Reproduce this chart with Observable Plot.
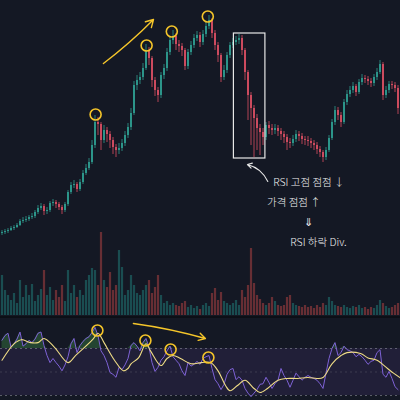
<!DOCTYPE html>
<html><head><meta charset="utf-8">
<script src="https://cdn.jsdelivr.net/npm/d3@7"></script>
<script src="https://cdn.jsdelivr.net/npm/@observablehq/plot@0.6"></script>
<style>
html,body{margin:0;padding:0;background:#141824;}
#wrap{position:relative;width:400px;height:400px;overflow:hidden;background:#141824;}
#wrap > div, #wrap > svg{position:absolute;left:0;}
#sep{position:absolute;left:0;top:316px;width:400px;height:2px;background:#0c0f16;}
</style></head>
<body><div id="wrap"><div id="vol" style="top:228px"></div><div id="price" style="top:0px"></div><div id="sep"></div><div id="rsi" style="top:318px"></div></div>
<script>
// ---- data ----
const opens = [
 87,88,89,90,92,93,95,99,100,101,
 103,104,108,112,114,109,110,117,118,116,
 113,110,116,128,135,136,131,138,147,152,
 158,175,198,196,180,190,186,180,173,170,
 172,177,185,193,207,235,240,243,252,270,
 262,240,230,225,245,252,268,280,284,276,
 274,270,254,268,275,282,285,278,286,294,
 300,287,275,265,243,250,265,275,278,280,
 282,270,248,225,212,202,192,188,183,195,
 192,190,192,189,186,183,178,177,181,186,
 184,181,180,179,177,175,171,168,163,170,
 182,198,210,205,198,218,226,230,234,228,
 238,242,241,239,237,243,248,256,225,230,
 236,235,232];
const closes = [
 88,89,90,92,93,95,99,100,101,103,
 104,108,112,114,109,110,117,118,116,113,
 110,116,128,135,136,131,138,147,152,158,
 175,198,196,180,190,186,180,173,170,172,
 177,185,193,207,235,240,243,252,270,262,
 240,230,225,245,252,268,280,284,276,274,
 270,254,268,275,282,285,278,286,294,300,
 287,275,265,243,250,265,275,278,280,282,
 270,248,225,212,202,192,188,183,195,192,
 190,192,189,186,183,178,177,181,186,184,
 181,180,179,177,175,171,168,163,170,182,
 198,210,205,198,218,226,230,234,228,238,
 242,241,239,237,243,248,256,225,230,236,
 235,232,212];
const highs = [
 90,91,92,94,95,97,101,103,104,105,
 107,110,115,117,116,113,119,121,120,118,
 115,118,130,138,140,138,141,150,156,162,
 180,205,203,198,195,193,189,183,176,177,
 181,189,197,212,239,245,248,257,276,273,
 264,243,233,248,256,272,284,290,287,280,
 277,272,271,279,286,289,288,290,298,305,
 302,290,278,267,255,268,278,282,284,286,
 285,272,250,228,215,206,196,192,198,199,
 196,196,195,192,189,186,182,185,190,189,
 187,184,184,182,180,178,174,170,173,185,
 201,214,213,208,221,230,234,238,236,241,
 246,245,244,242,246,252,260,258,234,239,
 239,238,235];
const lows = [
 85,86,87,89,90,92,94,97,98,99,
 101,102,106,110,105,106,108,114,112,110,
 106,108,114,126,132,128,129,136,145,150,
 156,172,185,170,177,178,172,166,163,166,
 169,174,182,190,205,230,236,240,250,255,
 233,224,218,222,241,249,265,276,270,268,
 264,250,251,265,272,279,273,275,283,291,
 282,270,258,238,240,247,262,272,275,276,
 265,240,200,175,163,170,165,175,180,186,
 185,186,184,180,177,170,172,174,178,179,
 176,175,174,172,170,166,163,158,160,168,
 180,195,200,193,196,215,223,227,224,226,
 235,237,235,233,234,240,246,220,222,227,
 231,228,206];
const volumes = [
 40,25,20,15,22,12,35,18,30,20,
 31,14,20,26,45,20,28,15,25,18,
 30,14,45,22,30,18,25,20,35,40,
 47,45,30,83,35,28,43,25,30,65,
 48,20,25,40,30,22,20,25,30,35,
 22,28,40,20,12,14,10,12,10,9,
 12,14,8,10,7,9,6,10,12,9,
 22,27,15,23,14,12,10,12,15,10,
 25,18,30,67,32,20,16,12,10,12,
 18,14,10,9,10,18,20,12,10,9,
 8,10,8,9,7,10,8,12,10,18,
 14,10,9,8,10,8,7,9,8,10,
 7,8,6,8,7,10,15,12,9,7,
 8,10,12];
const rsiValues = [
 77,81,83,71,74,78,84,72,74,77,
 75,78,83,84,72.5,64,58,61.5,58,55,
 51,56,63,74,78.5,66.5,72.5,76,78.5,80,
 83.5,88,81,68,64,58,49.5,48,45.5,54,
 52,56,61.5,72.5,75,72,68,75,78.5,71,
 58,50.5,54,60,63,68,72,63,60,57,
 51,47,58,55,56.5,59,56.5,61.5,63,64,
 53,43.5,40,35,39.5,48,52,53,43.5,46,
 43,36,32,29,32,35,39.5,40,45.5,41,
 36,40,43,53,47,43,37,43,49,46,
 43,45.5,47,45.5,44.5,43,40,36,49,61.5,
 70,75,64,66.5,72,69,68,66.5,63,65,
 63,60,56.5,59,60,66.5,69,48,45.5,50.5,
 44.5,37.5,35];
// RSI moving average, read at these bar positions
const maIndex = [0,4,6.5,9.5,12,14,17.5,22,24.5,27.5,30.5,32,34,37.5,40.5,42,43,45.5,48,49.5,53,55,57,59.5,63,66.5,69.5,72,74.5,76,78.5,81,84,86,88.5,92,95,98.5,102,105,107,110,113,115,119.5,122,125,128.5,130.5,132.8];
const maValues = [60,74,77.5,75,75,78.5,71,58,64,71,78.5,83,75,60,51,53,57,62,74,68,55.5,61.5,64,61.5,57,58,58,51,38.5,34,38.5,43,36,32.5,36,43,44.5,44.5,45.3,44.5,45.3,57,64,66.5,65.7,62,60,53,49,45];
const rsiLevels = [30, 50, 70];
const xDomain = [-0.5, 132.83];
const priceDomain = [4, 320];
const volDomain = [0, 87];
const rsiDomain = [25.74, 95.53];
// annotations
const priceCircleIdx = [31.2, 48.2, 56.6, 68.6];
const priceCirclePrice = [206, 275, 289, 304];
const priceArrow = {i1: 33.8, p1: 257, i2: 50.5, p2: 301};
const boxSpan = {i1: 77.3, i2: 87.8, p1: 162, p2: 287};
const noteArrow = {i1: 88.6, p1: 139, i2: 81.8, p2: 156};
const noteLines = ["RSI 고점 점점 ↓", "가격 점점 ↑", "⇓", "RSI 하락 Div."];
const noteIdx = [102.3, 97.3, 102.2, 105.5];
const notePrice = [138, 118, 98, 78];
const rsiCircleIdx = [31.8, 47.8, 56.2, 68.8];
const rsiCircleVal = [85.3, 76.8, 69.1, 62.3];
const rsiArrow = {i1: 43.8, v1: 91.3, i2: 67.8, v2: 78.5};

[opens, highs, lows, volumes, rsiValues].forEach((a, k) => { if (a.length !== closes.length) throw new Error("length mismatch " + k + ": " + a.length); });
if (maIndex.length !== maValues.length) throw new Error("ma mismatch");

const UP = "#2e9d91", DOWN = "#d94f63", YEL = "#f5c52a";
const candles = closes.map((c, i) => ({i, o: opens[i], c, h: highs[i], l: lows[i], v: volumes[i]}));
const isUp = d => d.c >= d.o;
const rsiData = rsiValues.map((v, i) => ({i, v}));
const maData = maValues.map((v, k) => ({i: maIndex[k], v}));
const circles = priceCircleIdx.map((i, k) => ({i, p: priceCirclePrice[k]}));
const notes = noteLines.map((t, k) => ({t, i: noteIdx[k], p: notePrice[k]}));
const rsiCircles = rsiCircleIdx.map((i, k) => ({i, v: rsiCircleVal[k]}));

const common = {width: 400, margin: 0, style: {background: "transparent", overflow: "visible"}};

// volume
const vol = Plot.plot({...common, height: 87,
  x: {domain: xDomain, axis: null}, y: {domain: volDomain, axis: null},
  marks: [
    Plot.ruleX(candles, {filter: isUp, x: "i", y1: 0, y2: "v", stroke: "#26a69a", strokeOpacity: 0.38, strokeWidth: 2.2}),
    Plot.ruleX(candles, {filter: d => !isUp(d), x: "i", y1: 0, y2: "v", stroke: "#ef5350", strokeOpacity: 0.38, strokeWidth: 2.2})
  ]});
document.getElementById("vol").appendChild(vol);

// price
const price = Plot.plot({...common, height: 316,
  x: {domain: xDomain, axis: null}, y: {domain: priceDomain, axis: null},
  marks: [
    Plot.ruleX(candles, {filter: isUp, x: "i", y1: "l", y2: "h", stroke: UP, strokeWidth: 0.8}),
    Plot.ruleX(candles, {filter: d => !isUp(d), x: "i", y1: "l", y2: "h", stroke: DOWN, strokeWidth: 0.8}),
    Plot.ruleX(candles, {filter: isUp, x: "i", y1: "o", y2: "c", stroke: UP, strokeWidth: 1.8}),
    Plot.ruleX(candles, {filter: d => !isUp(d), x: "i", y1: "o", y2: "c", stroke: DOWN, strokeWidth: 1.8}),
    Plot.dot(circles, {x: "i", y: "p", r: 5.5, stroke: YEL, strokeWidth: 1.6, fill: "none"}),
    Plot.arrow([priceArrow], {x1: "i1", y1: "p1", x2: "i2", y2: "p2", stroke: YEL, strokeWidth: 1.4, bend: -4, headLength: 9}),
    Plot.rect([boxSpan], {x1: "i1", x2: "i2", y1: "p1", y2: "p2", fill: "none", stroke: "#e8e8e8", strokeWidth: 1.2}),
    Plot.arrow([noteArrow], {x1: "i1", y1: "p1", x2: "i2", y2: "p2", stroke: "#e8e8e8", strokeWidth: 1.1, bend: -25, headLength: 7}),
    Plot.text(notes, {x: "i", y: "p", text: "t", fill: "#f0f0f0", fontSize: 10.5, fontFamily: "Noto Sans CJK KR, Noto Sans, sans-serif", fontWeight: 300})
  ]});
document.getElementById("price").appendChild(price);

// RSI
const rsi = Plot.plot({...common, height: 82,
  x: {domain: xDomain, axis: null}, y: {domain: rsiDomain, axis: null},
  marks: [
    Plot.rect([rsiLevels], {x1: () => xDomain[0], x2: () => xDomain[1], y1: d => d[0], y2: d => d[2], fill: "#7e57c2", fillOpacity: 0.13}),
    Plot.ruleY([rsiLevels[0], rsiLevels[2]], {stroke: "#8a8d99", strokeOpacity: 0.6, strokeDasharray: "2,3"}),
    Plot.ruleY([rsiLevels[1]], {stroke: "#8a8d99", strokeOpacity: 0.25, strokeDasharray: "2,3"}),
    Plot.areaY(rsiData, {x: "i", y1: 70, y2: d => Math.max(70, d.v), fill: "#4caf50", fillOpacity: 0.3}),
    Plot.line(rsiData, {x: "i", y: "v", stroke: "#7e62d6", strokeWidth: 1}),
    Plot.line(maData, {x: "i", y: "v", stroke: "#efdc86", strokeWidth: 1.1, curve: "catmull-rom"}),
    Plot.dot(rsiCircles, {x: "i", y: "v", r: 5.5, stroke: YEL, strokeWidth: 1.6, fill: "none"}),
    Plot.arrow([rsiArrow], {x1: "i1", y1: "v1", x2: "i2", y2: "v2", stroke: YEL, strokeWidth: 1.4, bend: 4, headLength: 8})
  ]});
document.getElementById("rsi").appendChild(rsi);
</script></body></html>
